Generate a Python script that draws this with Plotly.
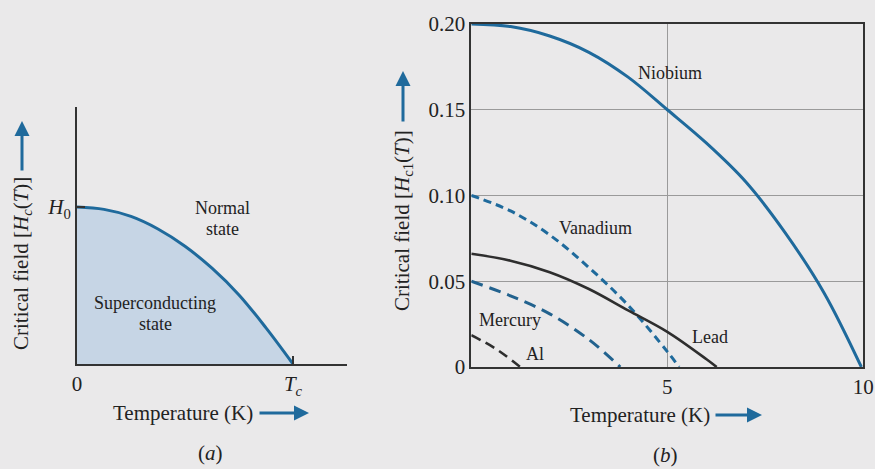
import plotly.graph_objects as go

W, H = 875, 469

# ---------- Panel (a): schematic critical field curve (units of Tc, H0) ----------
a_T = [0.0, 0.125, 0.25, 0.375, 0.5, 0.625, 0.75, 0.875, 1.0]
a_H = [1.0, 0.985, 0.94, 0.86, 0.75, 0.61, 0.44, 0.23, 0.0]

# ---------- Panel (b): critical field vs temperature ----------
nb_T = [0, 1, 2, 3, 4, 5, 6, 7, 8, 9, 9.95]
nb_H = [0.200, 0.1985, 0.193, 0.1835, 0.169, 0.150, 0.1305, 0.108, 0.0785, 0.0432, 0.0]

v_T = [0, 1, 2, 3, 4, 5, 5.3]
v_H = [0.100, 0.091, 0.077, 0.058, 0.036, 0.009, 0.0]

pb_T = [0, 1, 2, 3, 4, 5, 6, 6.26]
pb_H = [0.066, 0.062, 0.0553, 0.0455, 0.033, 0.0205, 0.0045, 0.0]

hg_T = [0, 1, 2, 3, 3.8]
hg_H = [0.050, 0.0415, 0.031, 0.016, 0.0]

al_T = [0, 0.6, 1.25]
al_H = [0.0185, 0.011, 0.0]

b_yticks = [0, 0.05, 0.10, 0.15, 0.20]
b_yticklabels = ["0", "0.05", "0.10", "0.15", "0.20"]
b_xticks = [5, 10]
b_xticklabels = ["5", "10"]

BLUE = "#1f6a9c"
BLUE2 = "#22628e"
DARK = "#2e2e2e"
BG = "#eae9ea"
FONT = "Liberation Serif, Times New Roman, Times, serif"
TXT = "#222222"

fig = go.Figure()

# panel a
fig.add_trace(go.Scatter(x=a_T, y=a_H, mode="lines", line=dict(color=BLUE, width=3, shape="spline"),
                         fill="tozeroy", fillcolor="#c6d5e5", xaxis="x", yaxis="y", showlegend=False))

# panel b
fig.add_trace(go.Scatter(x=nb_T, y=nb_H, mode="lines", line=dict(color=BLUE, width=3, shape="spline"),
                         xaxis="x2", yaxis="y2", showlegend=False))
fig.add_trace(go.Scatter(x=v_T, y=v_H, mode="lines", line=dict(color=BLUE, width=3, dash="8px,5px", shape="spline"),
                         xaxis="x2", yaxis="y2", showlegend=False))
fig.add_trace(go.Scatter(x=pb_T, y=pb_H, mode="lines", line=dict(color=DARK, width=2.6, shape="spline"),
                         xaxis="x2", yaxis="y2", showlegend=False))
fig.add_trace(go.Scatter(x=hg_T, y=hg_H, mode="lines", line=dict(color=BLUE2, width=3, dash="12px,7px", shape="spline"),
                         xaxis="x2", yaxis="y2", showlegend=False))
fig.add_trace(go.Scatter(x=al_T, y=al_H, mode="lines", line=dict(color=DARK, width=2.6, dash="10px,6px", shape="spline"),
                         xaxis="x2", yaxis="y2", showlegend=False))

def px(x):
    return x / W

def py(y):
    return 1 - y / H

fig.update_layout(
    width=W, height=H,
    margin=dict(l=0, r=0, t=0, b=0, autoexpand=False),
    paper_bgcolor=BG, plot_bgcolor=BG,
    font=dict(family=FONT, size=21, color=TXT),
    xaxis=dict(domain=[px(77), px(347)], range=[0, 1.25], showgrid=False, zeroline=False,
               automargin=False,
               showline=True, linecolor="#333", linewidth=2,
               tickvals=[0, 1], ticktext=["0", "<i>T<sub>c</sub></i>"],
               ticks="inside", ticklen=8, tickcolor="#333", tickwidth=1.5,
               tickfont=dict(size=21, family=FONT, color=TXT)),
    yaxis=dict(domain=[py(364), py(107)], range=[0, 1.637], showgrid=False, zeroline=False,
               automargin=False,
               showline=True, linecolor="#333", linewidth=2,
               tickvals=[1], ticktext=["<i>H</i><sub>0</sub>"],
               ticks="inside", ticklen=8, tickcolor="#333", tickwidth=1.5,
               tickfont=dict(size=21, family=FONT, color=TXT)),
    xaxis2=dict(domain=[px(471.3), px(863.3)], range=[0, 10], anchor="y2",
                automargin=False,
                showgrid=True, gridcolor="#9a9a9a", gridwidth=1, zeroline=False,
                showline=True, linecolor="#333", linewidth=1.5, mirror=True,
                tickvals=b_xticks, ticktext=b_xticklabels, ticks="",
                tickfont=dict(size=21, family=FONT, color=TXT)),
    yaxis2=dict(domain=[py(367), py(24)], range=[0, 0.2], anchor="x2",
                automargin=False,
                showgrid=True, gridcolor="#9a9a9a", gridwidth=1, zeroline=False,
                showline=True, linecolor="#333", linewidth=1.5, mirror=True,
                tickvals=b_yticks, ticktext=b_yticklabels, ticks="",
                tickfont=dict(size=21, family=FONT, color=TXT)),
)

ann = []

def text(x, y, s, size=17, angle=0):
    ann.append(dict(x=px(x), y=py(y), xref="paper", yref="paper", text=s, showarrow=False,
                    textangle=angle, font=dict(size=size, family=FONT, color=TXT),
                    xanchor="center", yanchor="middle"))

def arrow(hx, hy, tx, ty):
    ann.append(dict(x=px(hx), y=py(hy), xref="paper", yref="paper", text="",
                    showarrow=True, ax=tx - hx, ay=ty - hy, axref="pixel", ayref="pixel",
                    arrowhead=2, arrowsize=1.0, arrowwidth=3, arrowcolor=BLUE))

# panel a texts
text(223, 208, "Normal", 18)
text(223, 229, "state", 18)
text(155, 303, "Superconducting", 18)
text(155, 324, "state", 18)
text(22, 264, "Critical field [<i>H<sub>c</sub></i>(<i>T</i>)]", 21, -90)
arrow(22, 121, 22, 172)
text(183, 413, "Temperature (K)", 21)
arrow(309, 413, 258, 413)
text(210, 453, "(<i>a</i>)", 21)

# panel b texts
text(670, 73, "Niobium", 18)
text(595, 228, "Vanadium", 18)
text(510, 320, "Mercury", 18)
text(710, 337, "Lead", 18)
text(535, 354, "Al", 18)
text(403, 221, "Critical field [<i>H</i><sub>c1</sub>(<i>T</i>)]", 21, -90)
arrow(403, 71, 403, 123)
text(640, 415, "Temperature (K)", 21)
arrow(762, 415, 714, 415)
text(665, 455, "(<i>b</i>)", 21)

fig.update_layout(annotations=ann)

fig.write_html(
    "out.html",
    config={"displayModeBar": False},
    post_script="document.body.style.margin='0';document.body.style.background='#eae9ea';"
                "document.documentElement.style.background='#eae9ea';",
)
